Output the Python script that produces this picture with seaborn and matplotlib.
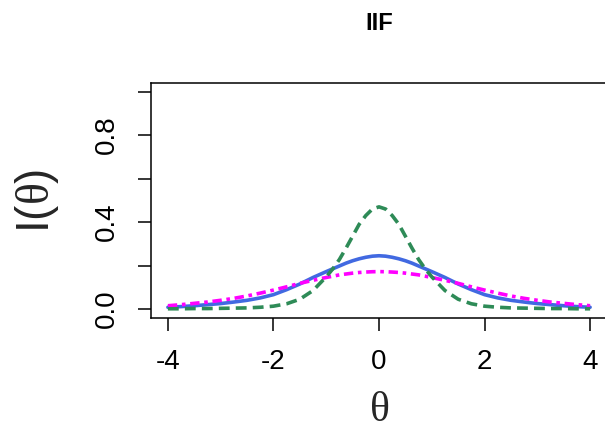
import matplotlib
matplotlib.use("Agg")
import matplotlib.pyplot as plt
import seaborn as sns
import pandas as pd

# Ability grid and item information values for three items
theta = [-4.0, -3.75, -3.5, -3.25, -3.0, -2.75, -2.5, -2.25, -2.0, -1.75, -1.5,
         -1.25, -1.0, -0.875, -0.75, -0.625, -0.5, -0.375, -0.25, -0.125, 0.0,
         0.125, 0.25, 0.375, 0.5, 0.625, 0.75, 0.875, 1.0, 1.25, 1.5,
         1.75, 2.0, 2.25, 2.5, 2.75, 3.0, 3.25, 3.5, 3.75, 4.0]

item1 = [0.008, 0.011, 0.015, 0.020, 0.025, 0.032, 0.040, 0.051, 0.066, 0.089, 0.115,
         0.145, 0.172, 0.185, 0.198, 0.211, 0.222, 0.231, 0.238, 0.243, 0.245,
         0.243, 0.238, 0.231, 0.222, 0.211, 0.198, 0.185, 0.172, 0.145, 0.115,
         0.089, 0.066, 0.051, 0.040, 0.032, 0.025, 0.020, 0.015, 0.011, 0.008]

item2 = [0.001, 0.001, 0.002, 0.002, 0.003, 0.004, 0.005, 0.008, 0.013, 0.024, 0.045,
         0.085, 0.148, 0.185, 0.228, 0.280, 0.335, 0.390, 0.430, 0.460, 0.470,
         0.460, 0.430, 0.390, 0.335, 0.280, 0.228, 0.185, 0.148, 0.085, 0.045,
         0.024, 0.013, 0.008, 0.005, 0.004, 0.003, 0.002, 0.002, 0.001, 0.001]

item3 = [0.015, 0.020, 0.026, 0.032, 0.040, 0.049, 0.060, 0.073, 0.087, 0.102, 0.118,
         0.132, 0.145, 0.151, 0.157, 0.161, 0.165, 0.168, 0.170, 0.1715, 0.172,
         0.1715, 0.170, 0.168, 0.165, 0.161, 0.157, 0.151, 0.145, 0.132, 0.118,
         0.102, 0.087, 0.073, 0.060, 0.049, 0.040, 0.032, 0.026, 0.020, 0.015]

y_ticks = [0.0, 0.2, 0.4, 0.6, 0.8, 1.0]
y_ticklabels = ["0.0", "", "0.4", "", "0.8", ""]
x_ticks = [-4, -2, 0, 2, 4]

df = pd.DataFrame({"theta": theta, "item1": item1, "item2": item2, "item3": item3})

sns.set_style("ticks")
plt.rcParams["font.family"] = ["Liberation Sans", "DejaVu Sans"]
# Sans text with a Times-style upright theta in the axis labels
plt.rcParams["mathtext.fontset"] = "custom"
plt.rcParams["mathtext.rm"] = "Liberation Serif"
plt.rcParams["mathtext.sf"] = "Liberation Sans"
plt.rcParams["mathtext.it"] = "Liberation Serif:italic"
plt.rcParams["mathtext.bf"] = "Liberation Serif:bold"

fig = plt.figure(figsize=(6.05, 4.34), dpi=100)
ax = fig.add_axes([0.2496, 0.268, 0.7537, 0.5408])

lw = 2.6
sns.lineplot(data=df, x="theta", y="item1", ax=ax, color="#4169E1",
             linewidth=lw, linestyle="-")
sns.lineplot(data=df, x="theta", y="item3", ax=ax, color="#FF00FF",
             linewidth=lw)
ax.lines[-1].set_dashes([2.6, 1.3, 1.0, 1.3])
sns.lineplot(data=df, x="theta", y="item2", ax=ax, color="#2E8B57",
             linewidth=lw)
ax.lines[-1].set_dashes([3.0, 1.7])

ax.set_xlim(-4.32, 4.32)
ax.set_ylim(-0.04, 1.04)
ax.set_xticks(x_ticks)
ax.set_xticklabels([str(v) for v in x_ticks])
ax.set_yticks(y_ticks)
ax.set_yticklabels(y_ticklabels, rotation=90, va="center")

for side in ["left", "bottom", "top"]:
    ax.spines[side].set_visible(True)
    ax.spines[side].set_linewidth(1.1)
    ax.spines[side].set_color("black")
ax.spines["right"].set_visible(False)

ax.tick_params(axis="both", length=9.5, width=1.1, pad=13, labelsize=20,
               colors="black")

ax.set_xlabel(r"$\mathrm{\theta}$", fontsize=30)
ax.xaxis.set_label_coords(0.5, -0.393)
ax.xaxis.label.set_va("center")
ax.set_ylabel(r"$\mathsf{I(}\mathrm{\theta}\mathsf{)}$", fontsize=33)
ax.yaxis.set_label_coords(-0.25, 0.50)
ax.yaxis.label.set_va("center")
ax.yaxis.label.set_ha("center")

fig.text(379 / 605, 1 - 24 / 434, "IIF", fontsize=17, fontweight="bold",
         ha="center", va="center", color="black")

fig.savefig("out.png", dpi=100)
